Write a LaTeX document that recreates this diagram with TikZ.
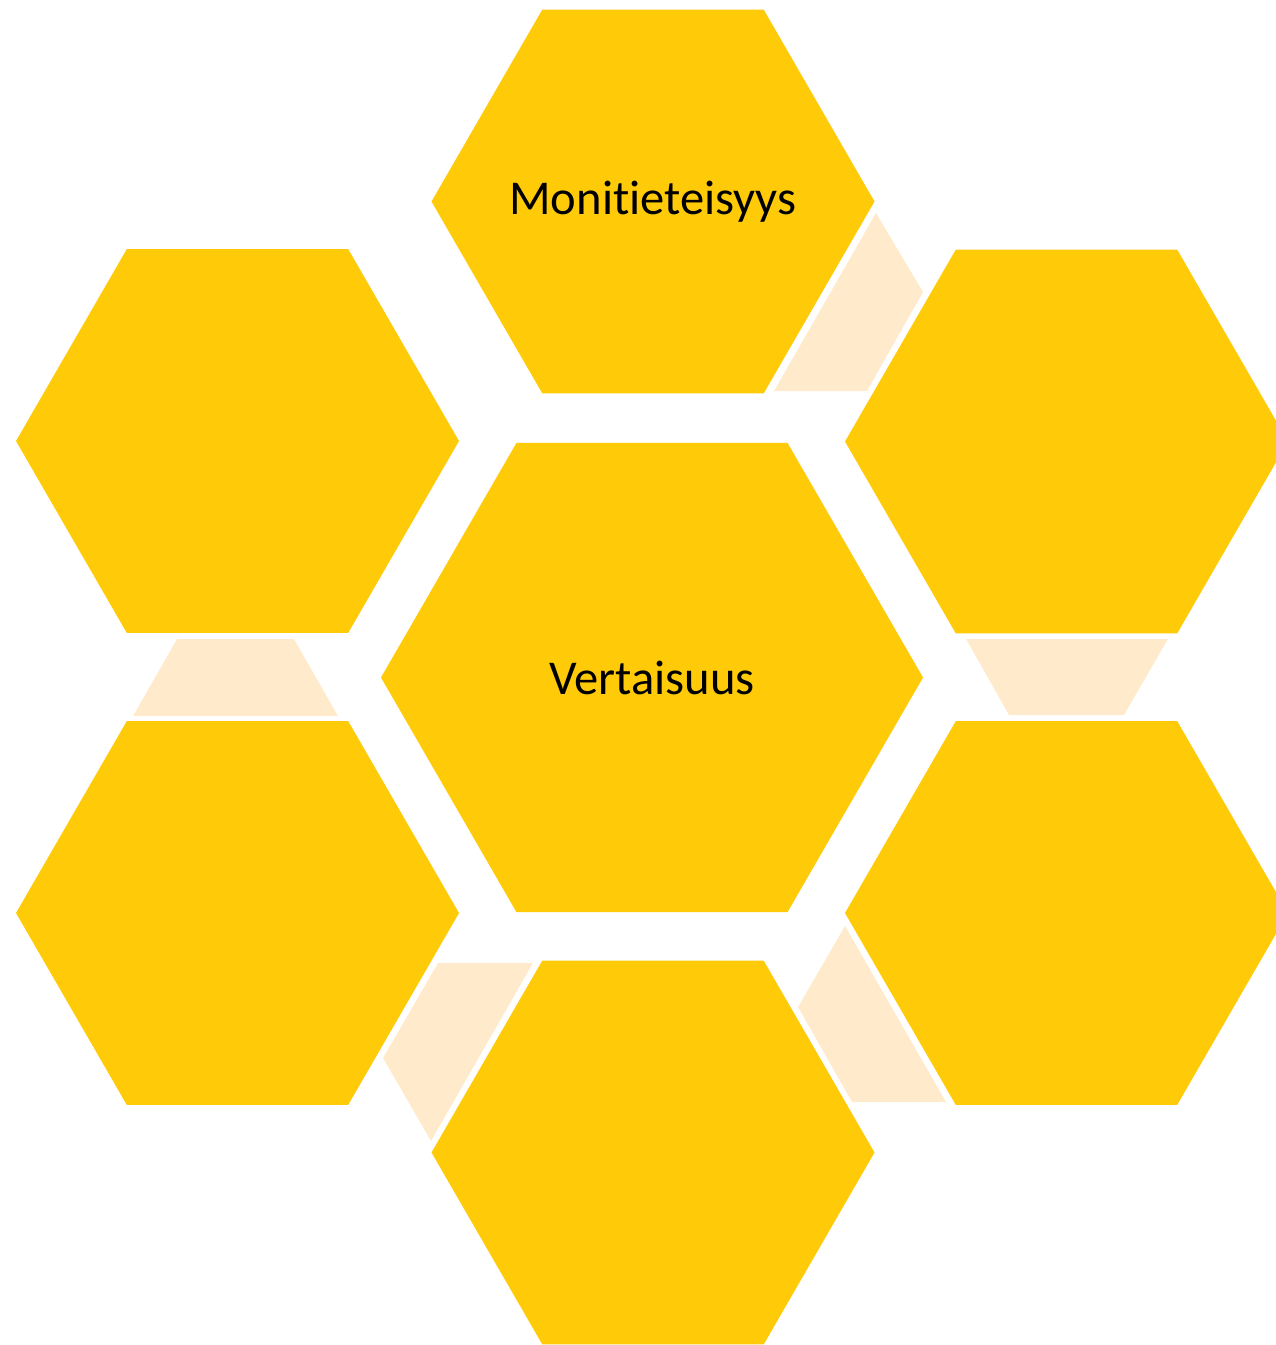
\documentclass[tikz,border=0pt]{standalone}
\usepackage{fontspec}
\setmainfont{Carlito}[Ligatures={NoCommon,NoRequired,NoContextual},RawFeature={-liga;-dlig}]
\usetikzlibrary{shapes.geometric}
\definecolor{hexyellow}{RGB}{255,202,8}
\definecolor{linkcream}{RGB}{255,235,204}
\begin{document}
\begin{tikzpicture}[x=1pt,y=-1pt,
  hexbox/.style={regular polygon, regular polygon sides=6, fill=hexyellow, draw=none,
    inner sep=0pt, outer sep=0pt, minimum size=#1, font=\fontsize{48.6}{58}\selectfont},
  hexbox/.default=443pt,
  linkshape/.style={fill=linkcream, draw=none}]
\useasboundingbox (0,0) rectangle (1276,1345);
\clip (0,0) rectangle (1276,1345);
\node[hexbox=542pt] (center) at (652,677.5) {\makebox[0pt]{Vertaisuus}};
\node[hexbox] (top) at (653,201.5) {\makebox[0pt]{Moniti\kern0pt eteisyys}};
\node[hexbox] (ul) at (237.5,441) {};
\node[hexbox] (ur) at (1066.5,441.5) {};
\node[hexbox] (ll) at (237.5,913) {};
\node[hexbox] (lr) at (1066.5,913) {};
\node[hexbox] (bottom) at (653,1152.5) {};
% light link shapes between the outer hexagons
\fill[linkshape] (876,213) -- (923,292) -- (867,391) -- (774,391) -- cycle;
\fill[linkshape] (966,639) -- (1168,639) -- (1124,715) -- (1009,715) -- cycle;
\fill[linkshape] (845,926) -- (946,1102) -- (852,1102) -- (798,1007) -- cycle;
\fill[linkshape] (438,963) -- (533,963) -- (431,1141) -- (383,1058) -- cycle;
\fill[linkshape] (177,639) -- (294,639) -- (338,716) -- (133,716) -- cycle;
\end{tikzpicture}
\end{document}
